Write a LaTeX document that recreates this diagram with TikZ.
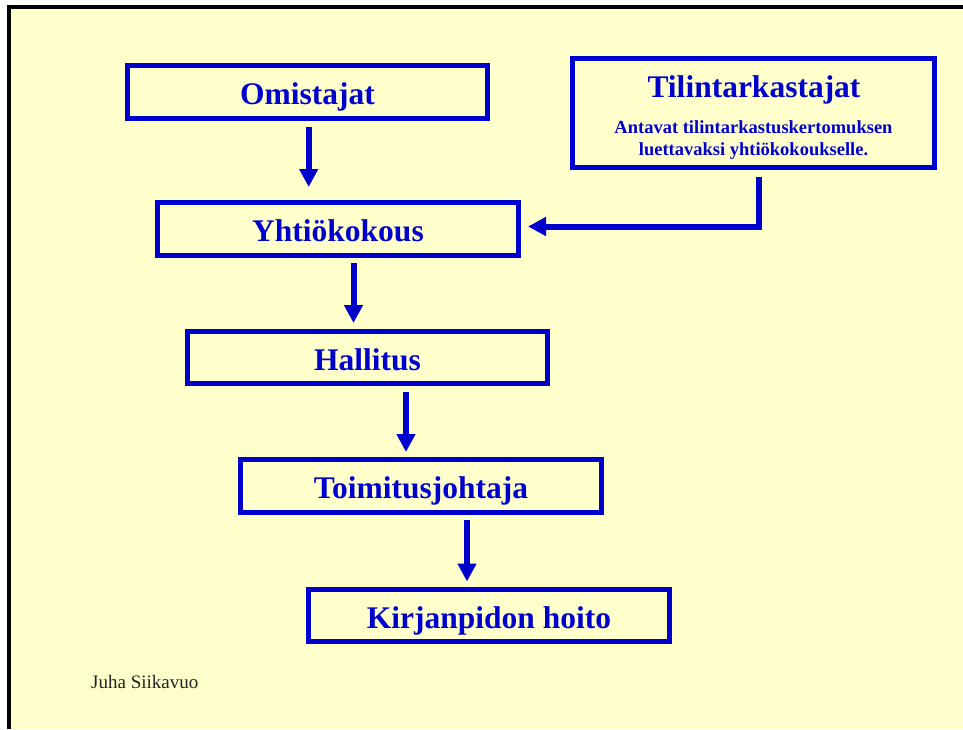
\documentclass[tikz,border=0pt]{standalone}
\usepackage{fontspec}
\setmainfont{Liberation Serif}
\usetikzlibrary{arrows.meta,calc}
\definecolor{bgyellow}{HTML}{FFFFCC}
\definecolor{boxblue}{HTML}{0000CC}
\definecolor{authorgray}{HTML}{222222}
\begin{document}
\begin{tikzpicture}[x=1pt,y=-1pt,
  box/.style={draw=boxblue,line width=5pt,rectangle,outer sep=0pt,inner sep=0pt,
    text height=25pt,text depth=0pt,
    text=boxblue,font=\fontsize{31.5}{36}\selectfont\bfseries},
  arr/.style={draw=boxblue,line width=6pt,-{Triangle[length=18pt,width=18pt]}},
  subtext/.style={text=boxblue,font=\fontsize{18.5}{22}\selectfont\bfseries,inner sep=0pt,anchor=base}]
\useasboundingbox (0,0) rectangle (963,729);
\fill[white] (0,0) rectangle (963,729);
\fill[black] (7,5) rectangle (963,729);
\fill[bgyellow] (11,9) rectangle (963,729);

\node[box,minimum width=360pt,minimum height=53pt] (omi) at (307.5,92) {Omistajat};
\node[box,minimum width=362pt,minimum height=109pt] (tili) at (753.5,113) {};
\node[text=boxblue,font=\fontsize{31.5}{36}\selectfont\bfseries,inner sep=0pt,anchor=base] (tilit) at (754,97) {Tilintarkastajat};
\node[subtext] (tils1) at (753.5,133) {Antavat tilintarkastuskertomuksen};
\node[subtext] (tils2) at (753.5,155) {luettavaksi yhtiökokoukselle.};
\node[box,minimum width=361pt,minimum height=53pt] (yht) at (338,229) {Yhtiökokous};
\node[box,minimum width=360pt,minimum height=52pt] (hal) at (367.5,357.5) {Hallitus};
\node[box,minimum width=361pt,minimum height=53pt] (toi) at (421,486) {Toimitusjohtaja};
\node[box,minimum width=361pt,minimum height=52pt] (kir) at (489,615.5) {Kirjanpidon hoito};

\node[text=authorgray,font=\fontsize{19}{22}\selectfont,inner sep=0pt,anchor=base west] (author) at (91,688) {Juha Siikavuo};

\draw[arr,shorten <=8.5pt,shorten >=15.5pt] ([xshift=1.2pt]omi.south) -- ([xshift=1.2pt]omi.south |- yht.north);
\draw[arr,shorten <=7.5pt,shorten >=8.5pt] ([xshift=15.5pt]yht.south) -- ([xshift=15.5pt]yht.south |- hal.north);
\draw[arr,shorten <=8.5pt,shorten >=7.5pt] ([xshift=38.5pt]hal.south) -- ([xshift=38.5pt]hal.south |- toi.north);
\draw[arr,shorten <=7.5pt,shorten >=8pt] ([xshift=46pt]toi.south) -- ([xshift=46pt]toi.south |- kir.north);
\draw[arr,shorten <=9.5pt,shorten >=9.5pt] ([xshift=5.5pt]tili.south) |- ([yshift=2.5pt]yht.east);
\end{tikzpicture}
\end{document}
